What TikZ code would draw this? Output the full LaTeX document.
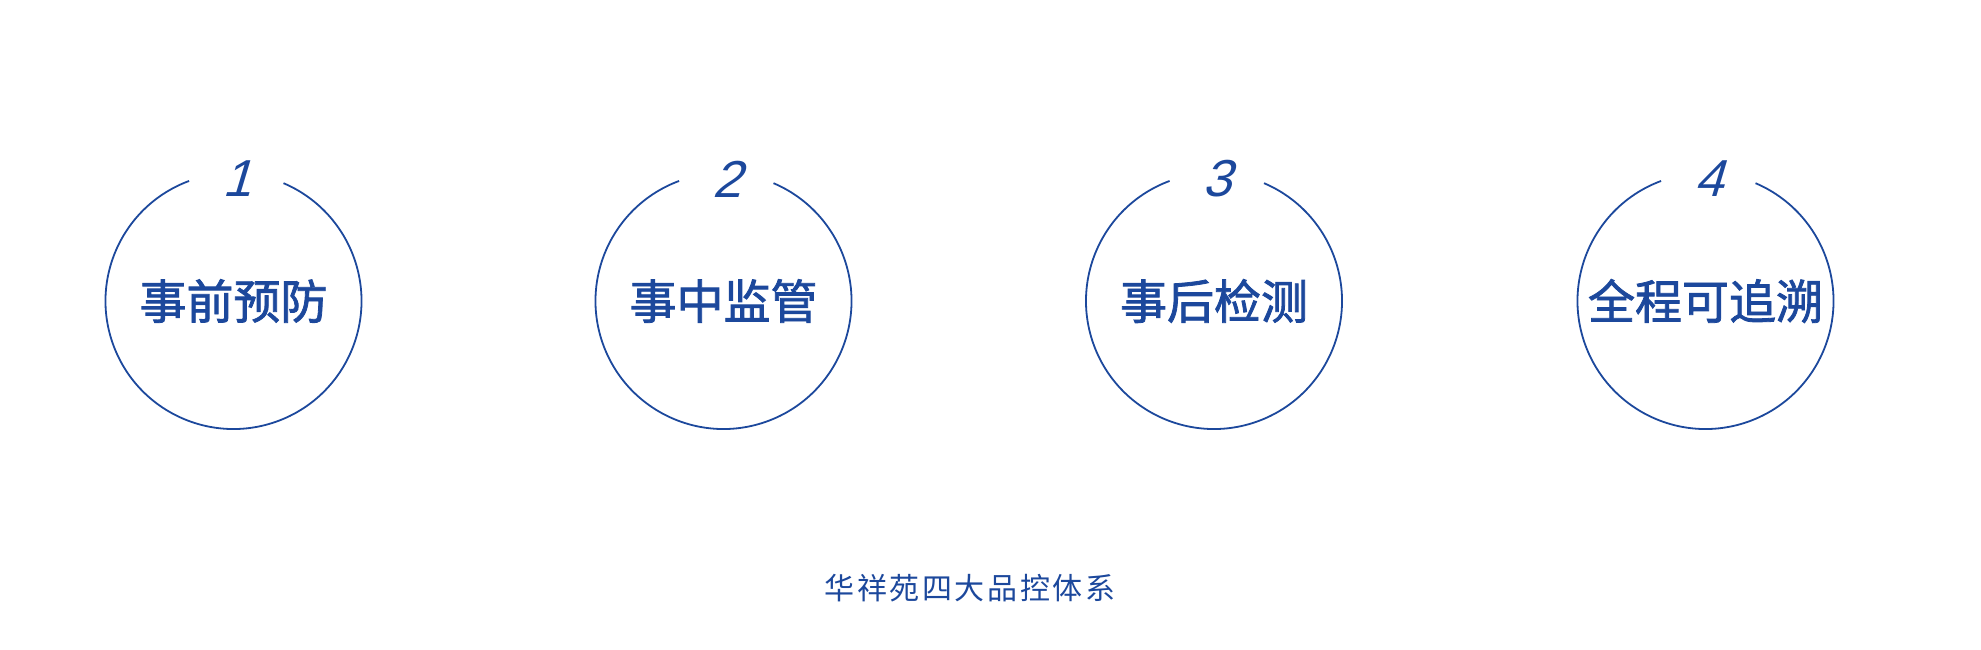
\documentclass[tikz,border=0pt]{standalone}
\usepackage{fontspec}
\usetikzlibrary{calc}
\newfontfamily\cjk{Noto Sans CJK SC}
\newfontfamily\cjkmid[FakeBold=1.7]{Noto Sans CJK SC}
\newfontfamily\numfont[FakeSlant=0.3]{Liberation Sans}
\definecolor{navy}{RGB}{28,72,156}
\tikzset{
  ring/.style={draw=navy, line width=1.8pt},
  title/.style={text=navy, font=\cjkmid\fontsize{47}{50}\selectfont, inner sep=0pt},
  num/.style={text=navy, font=\numfont\fontsize{52}{54}\selectfont, inner sep=0pt},
  caption/.style={text=navy, font=\cjk\fontsize{30}{32}\selectfont, inner sep=0pt}
}
\begin{document}
\begin{tikzpicture}[x=1pt,y=1pt]
\useasboundingbox (0,0) rectangle (1981,-649);
\foreach \i/\cx/\t/\n in {1/233.5/事前预防/1, 2/723.5/事中监管/2, 3/1214/事后检测/3, 4/1705.5/全程可追溯/4}{
  \coordinate (c\i) at (\cx,-301);
  \draw[ring] ($(c\i)+(110.3:128)$) arc[start angle=110.3, end angle=427, radius=128];
  \node[title] (t\i) at (c\i) {\t};
  \node[num] (n\i) at ($(c\i)+(3,122)$) {\n};
}
\node[caption] (cap) at (970,-588) {华\hspace{2.6pt}祥\hspace{2.6pt}苑\hspace{2.6pt}四\hspace{2.6pt}大\hspace{2.6pt}品\hspace{2.6pt}控\hspace{2.6pt}体\hspace{2.6pt}系};
\end{tikzpicture}
\end{document}
